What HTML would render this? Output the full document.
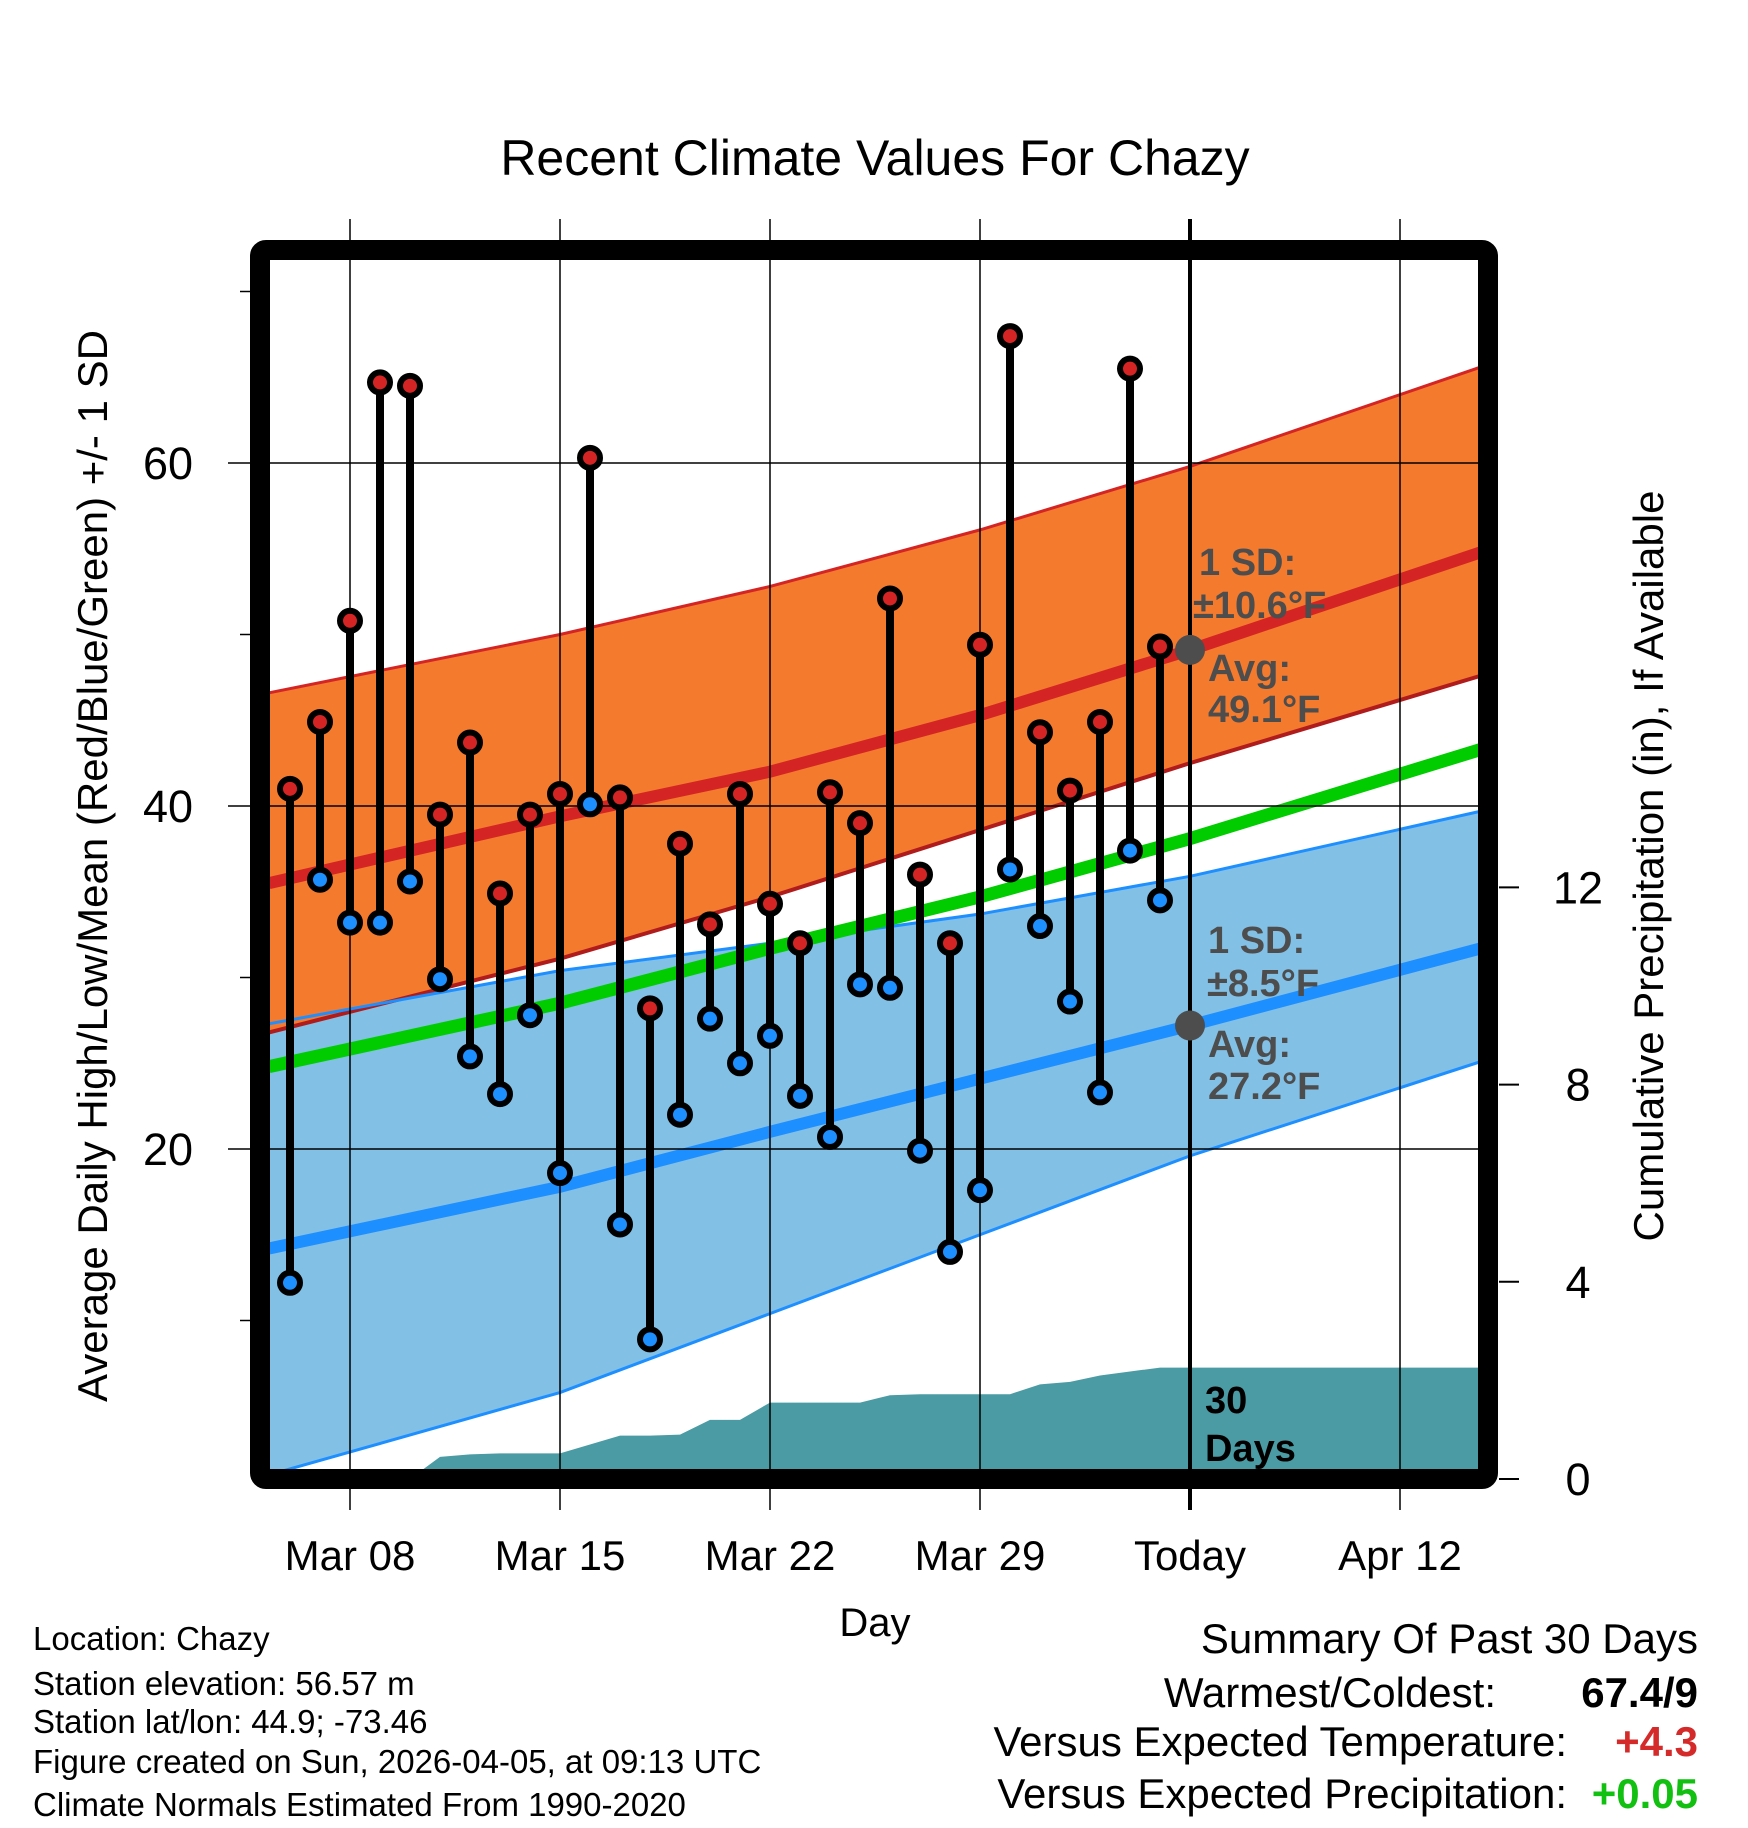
<!DOCTYPE html>
<html><head><meta charset="utf-8"><style>
html,body{margin:0;padding:0;background:#fff}
svg{display:block;font-family:"Liberation Sans",Arial,sans-serif}
</style></head><body>
<svg id="chart" width="1748" height="1828" viewBox="0 0 1748 1828" xmlns="http://www.w3.org/2000/svg">
<defs><clipPath id="plotclip"><rect x="270" y="260" width="1208" height="1209"/></clipPath></defs>
<text x="875" y="175" text-anchor="middle" font-size="50">Recent Climate Values For Chazy</text>
<g id="plot" clip-path="url(#plotclip)"></g>
<g id="over"></g>
<text transform="translate(107,866) rotate(-90)" text-anchor="middle" font-size="42">Average Daily High/Low/Mean (Red/Blue/Green) +/- 1 SD</text>
<text transform="translate(1663,866) rotate(-90)" text-anchor="middle" font-size="42">Cumulative Precipitation (in), If Available</text>
<text x="875" y="1636" text-anchor="middle" font-size="40">Day</text>
<g font-size="33">
<text x="33" y="1650">Location: Chazy</text>
<text x="33" y="1695">Station elevation: 56.57 m</text>
<text x="33" y="1733">Station lat/lon: 44.9; -73.46</text>
<text x="33" y="1773">Figure created on Sun, 2026-04-05, at 09:13 UTC</text>
<text x="33" y="1816">Climate Normals Estimated From 1990-2020</text>
</g>
<g font-size="42">
<text x="1698" y="1653" text-anchor="end">Summary Of Past 30 Days</text>
<text x="1496" y="1707" text-anchor="end">Warmest/Coldest:</text>
<text x="1698" y="1707" text-anchor="end" font-weight="bold">67.4/9</text>
<text x="1567" y="1756" text-anchor="end">Versus Expected Temperature:</text>
<text x="1698" y="1756" text-anchor="end" font-weight="bold" fill="#d42a2a">+4.3</text>
<text x="1567" y="1808" text-anchor="end">Versus Expected Precipitation:</text>
<text x="1698" y="1808" text-anchor="end" font-weight="bold" fill="#11c011">+0.05</text>
</g>
</svg>
<script>
// days relative to Mar 08 (Mar 06 = -2)
const obsDays=[-2,-1,0,1,2,3,4,5,6,7,8,9,10,11,12,13,14,15,16,17,18,19,20,21,22,23,24,25,26,27];
const highs=[41.0,44.9,50.8,64.7,64.5,39.5,43.7,34.9,39.5,40.7,60.3,40.5,28.2,37.8,33.1,40.7,34.3,32.0,40.8,39.0,52.1,36.0,32.0,49.4,67.4,44.3,40.9,44.9,65.5,49.3];
const lows=[12.2,35.7,33.2,33.2,35.6,29.9,25.4,23.2,27.8,18.6,40.1,15.6,8.9,22.0,27.6,25.0,26.6,23.1,20.7,29.6,29.4,19.9,14.0,17.6,36.3,33.0,28.6,23.3,37.4,34.5];
const precip=[0,0,0,0,0,0.45,0.5,0.52,0.52,0.52,0.7,0.88,0.88,0.9,1.2,1.2,1.55,1.55,1.55,1.55,1.7,1.72,1.72,1.72,1.72,1.92,1.97,2.1,2.18,2.26];
const normDays=[-2.7,7,14,21,28,37.7];
const normHigh=[35.5,39.4,42.0,45.3,49.1,54.8];
const normHighUp=[46.6,50.0,52.8,56.1,59.8,65.6];
const normHighLo=[26.8,31.1,34.7,38.6,42.5,47.6];
const normLow=[14.2,17.8,21.0,24.1,27.2,31.7];
const normLowUp=[27.3,30.4,32.0,33.7,35.9,39.7];
const normLowLo=[1.0,5.8,10.4,15.0,19.6,25.1];
const normMean=[24.8,28.5,31.7,34.7,38.1,43.3];
const xTickDays=[0,7,14,21,28,35];
const xTickLabels=["Mar 08","Mar 15","Mar 22","Mar 29","Today","Apr 12"];
const yTicks=[20,40,60];
const yMinor=[10,30,50,70];
const pTicks=[0,4,8,12];
const todayDay=28;

const NS="http://www.w3.org/2000/svg";
const X=d=>350+d*30;
const Y=t=>806-(t-40)*17.15;
const P=p=>1479-p*49.3;
const plot=document.getElementById('plot'), over=document.getElementById('over');
function mk(tag,attrs,parent){const e=document.createElementNS(NS,tag);for(const k in attrs)e.setAttribute(k,attrs[k]);parent.appendChild(e);return e;}
function band(up,lo,fill){let d='M'+normDays.map((v,i)=>X(v)+','+Y(up[i])).join('L');for(let i=normDays.length-1;i>=0;i--)d+='L'+X(normDays[i])+','+Y(lo[i]);return mk('path',{d:d+'Z',fill:fill},plot);}
function line(arr,col,w){return mk('path',{d:'M'+normDays.map((v,i)=>X(v)+','+Y(arr[i])).join('L'),fill:'none',stroke:col,'stroke-width':w},plot);}

let e;
e=band(normLowUp,normLowLo,'#82c0e6');


e=line(normLowLo,'#1e8fff',3);


e=band(normHighUp,normHighLo,'#f47a2e');


e=line(normHighUp,'#d42424',3);


e=line(normHighLo,'#b01c1c',4);


e=line(normLowUp,'#1e8fff',3);



// precipitation area
let pd='M'+X(obsDays[0])+','+P(0);
obsDays.forEach((d,i)=>{pd+='L'+X(d)+','+P(precip[i]);});
pd+='L'+X(37.7)+','+P(precip[precip.length-1])+'L'+X(37.7)+','+P(0)+'Z';
e=mk('path',{d:pd,fill:'#4a9ba3'},plot);



e=line(normMean,'#00cc00',13);


e=line(normHigh,'#d42424',12);


e=line(normLow,'#1e8fff',12);



// gridlines
yTicks.forEach(t=>{e=mk('line',{x1:228,x2:1478,y1:Y(t),y2:Y(t),stroke:'#000','stroke-width':1.5},over);


e=mk('text',{x:193,y:Y(t)+16,'text-anchor':'end','font-size':45},over);e.textContent=t;

});
yMinor.forEach(t=>{e=mk('line',{x1:240,x2:250,y1:Y(t),y2:Y(t),stroke:'#000','stroke-width':1.5},over);

});
xTickDays.forEach((d,i)=>{e=mk('line',{x1:X(d),x2:X(d),y1:219,y2:1510,stroke:'#000','stroke-width':d===todayDay?4:1.5},over);


e=mk('text',{x:X(d),y:1570,'text-anchor':'middle','font-size':42},over);e.textContent=xTickLabels[i];

});
pTicks.forEach(p=>{e=mk('line',{x1:1499,x2:1519,y1:P(p),y2:P(p),stroke:'#000','stroke-width':2},over);


e=mk('text',{x:1578,y:P(p)+16,'text-anchor':'middle','font-size':45},over);e.textContent=p;

});

// frame
e=mk('rect',{x:260,y:250,width:1228,height:1229,fill:'none',stroke:'#000','stroke-width':20,rx:6},over);



// observations
obsDays.forEach((d,i)=>{
 e=mk('line',{x1:X(d),x2:X(d),y1:Y(highs[i]),y2:Y(lows[i]),stroke:'#000','stroke-width':8},over);
 
 
 e=mk('circle',{cx:X(d),cy:Y(highs[i]),r:10,fill:'#d42424',stroke:'#000','stroke-width':6},over);
 
 
 e=mk('circle',{cx:X(d),cy:Y(lows[i]),r:10,fill:'#1e8fff',stroke:'#000','stroke-width':6},over);
 
 
});
const tIdx=normDays.indexOf(28);
e=mk('circle',{cx:X(todayDay),cy:Y(normHigh[tIdx]),r:15,fill:'#4d4d4d'},over);


e=mk('circle',{cx:X(todayDay),cy:Y(normLow[tIdx]),r:15,fill:'#4d4d4d'},over);



const ann=[[1199,575,'1 SD:','high-sd-label'],[1193,618,'±10.6°F','high-sd-value'],[1208,681,'Avg:','high-avg-label'],[1208,722,'49.1°F','high-avg-value'],
[1208,953,'1 SD:','low-sd-label'],[1207,996,'±8.5°F','low-sd-value'],[1208,1057,'Avg:','low-avg-label'],[1208,1099,'27.2°F','low-avg-value']];
ann.forEach(a=>{e=mk('text',{x:a[0],y:a[1],'font-size':38,'font-weight':'bold',fill:'#4d4d4d'},over);e.textContent=a[2];

});
e=mk('text',{x:1205,y:1413,'font-size':38,'font-weight':'bold'},over);e.textContent='30';


e=mk('text',{x:1205,y:1461,'font-size':38,'font-weight':'bold'},over);e.textContent='Days';


</script>
</body></html>
